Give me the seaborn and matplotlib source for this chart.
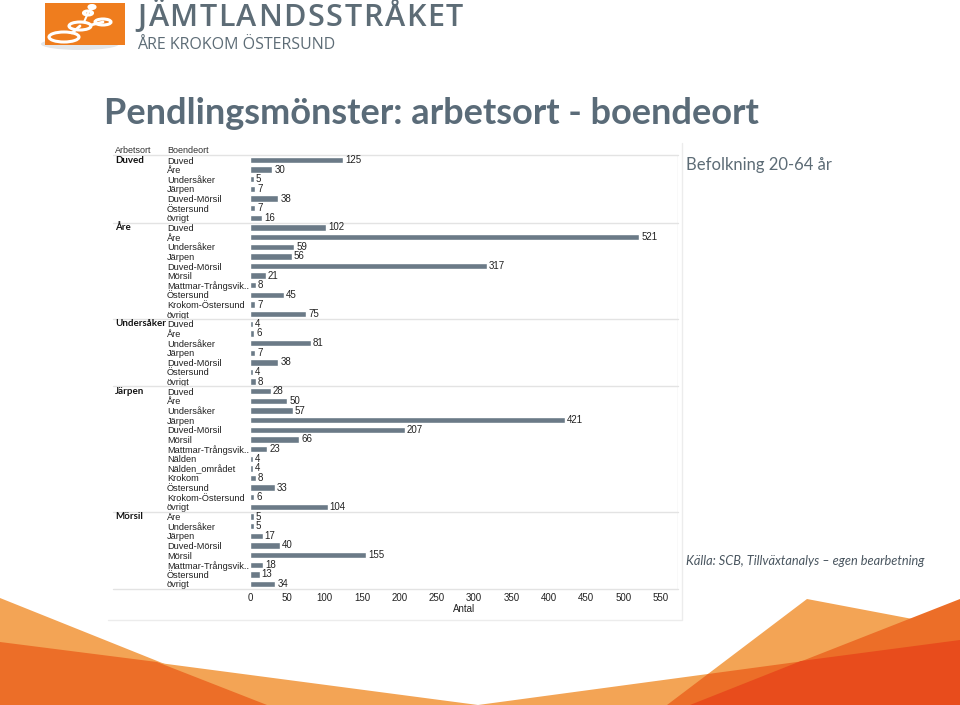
import matplotlib
matplotlib.use('Agg')
import matplotlib.pyplot as plt
from matplotlib.patches import Polygon, Rectangle, Ellipse
import seaborn as sns
import pandas as pd

# data: arbetsort -> boendeort / antal
arbetsort = ['Duved', 'Åre', 'Undersåker', 'Järpen', 'Mörsil']
boendeort = [
    ['Duved', 'Åre', 'Undersåker', 'Järpen', 'Duved-Mörsil', 'Östersund', 'övrigt'],
    ['Duved', 'Åre', 'Undersåker', 'Järpen', 'Duved-Mörsil', 'Mörsil',
     'Mattmar-Trångsvik..', 'Östersund', 'Krokom-Östersund', 'övrigt'],
    ['Duved', 'Åre', 'Undersåker', 'Järpen', 'Duved-Mörsil', 'Östersund', 'övrigt'],
    ['Duved', 'Åre', 'Undersåker', 'Järpen', 'Duved-Mörsil', 'Mörsil',
     'Mattmar-Trångsvik..', 'Nälden', 'Nälden_området', 'Krokom', 'Östersund',
     'Krokom-Östersund', 'övrigt'],
    ['Åre', 'Undersåker', 'Järpen', 'Duved-Mörsil', 'Mörsil',
     'Mattmar-Trångsvik..', 'Östersund', 'övrigt'],
]
antal = [
    [125, 30, 5, 7, 38, 7, 16],
    [102, 521, 59, 56, 317, 21, 8, 45, 7, 75],
    [4, 6, 81, 7, 38, 4, 8],
    [28, 50, 57, 421, 207, 66, 23, 4, 4, 8, 33, 6, 104],
    [5, 5, 17, 40, 155, 18, 13, 34],
]
x_ticks = list(range(0, 551, 50))

rows = []
for a, bs, vs in zip(arbetsort, boendeort, antal):
    for b, v in zip(bs, vs):
        rows.append({'arbetsort': a, 'boendeort': b, 'antal': v, 'key': a + '|' + b})
df = pd.DataFrame(rows)

sns.set_style('white')
plt.rcParams['font.family'] = ['Liberation Sans', 'DejaVu Sans']

W, H = 960, 705
fig = plt.figure(figsize=(W / 100, H / 100), dpi=100)

# bakgrund / dekor i pixelkoordinater
bg = fig.add_axes([0, 0, 1, 1])
bg.set_xlim(0, W)
bg.set_ylim(H, 0)
bg.axis('off')

light = '#f3a455'
mid = '#ec6e28'
red = '#e84c1c'
for pts, c in [
    ([(0, 598), (267, 705), (0, 705)], light),
    ([(0, 642), (478, 705), (960, 640), (960, 705), (0, 705)], light),
    ([(807, 599), (960, 628), (960, 705), (667, 705)], light),
    ([(0, 642), (157, 662), (267, 705), (0, 705)], mid),
    ([(708, 674), (960, 640), (960, 705), (667, 705)], mid),
    ([(960, 599), (690, 705), (960, 705)], mid),
    ([(801, 661), (960, 640), (960, 705), (690, 705)], red),
]:
    bg.add_patch(Polygon(pts, closed=True, facecolor=c, edgecolor='none'))

# ram runt diagrambilden
bg.plot([108, 682, 682], [620, 620, 143], color='#ececec', lw=1)

# logga
bg.add_patch(Ellipse((80, 44), 78, 12, facecolor='#e4e6e8', edgecolor='none'))
bg.add_patch(Rectangle((45, 3), 80, 42, facecolor='#ef7d1e', edgecolor='none'))
for (cx, cy, w, h) in [(64, 37, 30, 10), (80, 26, 22, 8), (103, 22, 16, 6),
                       (88, 13, 9, 4), (92, 7, 6, 3)]:
    bg.add_patch(Ellipse((cx, cy), w, h, facecolor='none', edgecolor='white', lw=2.2))
bg.plot([72, 80], [33, 26], color='white', lw=2)
bg.plot([84, 88, 92], [22, 13, 7], color='white', lw=1.5)
bg.plot([91, 103], [25, 22], color='white', lw=2)

logo_col = '#5d6c76'
renderer = fig.canvas.get_renderer()
xpos = 137
for ch in 'JÄMTLANDSSTRÅKET':
    t = bg.text(xpos, 18, ch, fontsize=22, color=logo_col, fontweight='semibold',
                family=['Open Sans', 'DejaVu Sans'], va='center', ha='left')
    xpos += t.get_window_extent(renderer).width + 1.6
bg.text(137, 45, 'ÅRE KROKOM ÖSTERSUND', fontsize=11.5, color=logo_col,
        family=['Open Sans', 'DejaVu Sans'], va='center', ha='left')

title_col = '#5a6b78'
bg.text(104, 114, 'Pendlingsmönster: arbetsort - boendeort', fontsize=26, color=title_col,
        fontweight='bold', family=['Lato', 'DejaVu Sans'], va='center', ha='left')

bg.text(686, 165, 'Befolkning 20-64 år', fontsize=12, color='#5d6c76',
        family=['Lato', 'DejaVu Sans'], va='center', ha='left')
bg.text(686, 561, 'Källa: SCB, Tillväxtanalys – egen bearbetning', fontsize=9.2,
        color='#4a5660', style='italic', family=['Lato', 'DejaVu Sans'],
        va='center', ha='left')

# stapeldiagram
x0, x1 = 250, 678
y0, y1 = 155.2, 588.8
ax = fig.add_axes([x0 / W, 1 - y1 / H, (x1 - x0) / W, (y1 - y0) / H])
sns.barplot(data=df, y='key', x='antal', orient='h', color='#6b7a87',
            width=0.66, saturation=1, ax=ax)
ax.bar_label(ax.containers[0], padding=1.5, fontsize=7, color='#222222')
ax.set_xlim(0, (x1 - x0) / 0.7473)
ax.set_ylim(len(df) - 0.5, -0.5)
sns.despine(ax=ax, left=True, bottom=True, top=True, right=True)

ax.set_yticks(range(len(df)))
ax.set_yticklabels(df['boendeort'], fontsize=6.7, color='#222222')
ax.tick_params(axis='y', length=0, pad=(x0 - 167) * 0.72)
for lab in ax.get_yticklabels():
    lab.set_horizontalalignment('left')

ax.set_xticks(x_ticks)
ax.set_xticklabels([str(t) for t in x_ticks], fontsize=7, color='#222222')
ax.tick_params(axis='x', length=0, pad=3)
ax.set_xlabel('Antal', fontsize=7, color='#222222', labelpad=1)
ax.set_ylabel('')

line_col = '#e3e3e3'
xmin = (113 - x0) / (x1 - x0)
start = 0
ytr = ax.get_yaxis_transform()
for a, vs in zip(arbetsort, antal):
    ax.axhline(start - 0.5, xmin=xmin, xmax=1, color=line_col, lw=1, clip_on=False)
    ax.text((115 - x0) / (x1 - x0), start, a, transform=ytr, fontsize=7,
            fontweight='bold', family=['Lato', 'DejaVu Sans'], color='#111111',
            va='center', ha='left')
    start += len(vs)
ax.axhline(start - 0.5, xmin=xmin, xmax=1, color=line_col, lw=1, clip_on=False)
ax.axvline(ax.get_xlim()[1], color=line_col, lw=1)

ax.text((115 - x0) / (x1 - x0), -1.0, 'Arbetsort', transform=ytr, fontsize=6.5,
        color='#333333', va='center', ha='left')
ax.text((167 - x0) / (x1 - x0), -1.0, 'Boendeort', transform=ytr, fontsize=6.5,
        color='#333333', va='center', ha='left')

fig.savefig('out.png', dpi=100)
